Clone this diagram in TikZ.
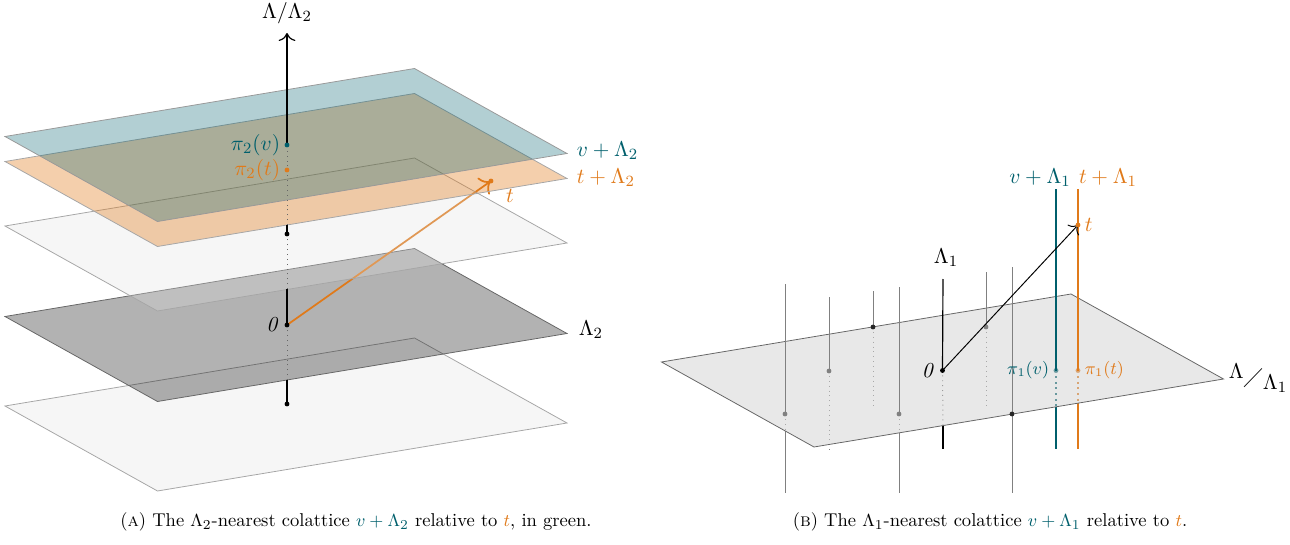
\documentclass[tikz,border=0pt]{standalone}
\usepackage{amsmath,amssymb}
\usepackage{tikz}
\usetikzlibrary{arrows.meta,positioning,calc}
\usepackage{xcolor}
\definecolor{fteal}{RGB}{0,95,108}
\definecolor{forange}{RGB}{224,122,26}
\tikzset{
  lightplane/.style  = {draw=black!35, fill=black!12, fill opacity=0.3},
  darkplane/.style   = {draw=black!60, fill=black, fill opacity=0.3},
  orangeplane/.style = {draw=black!35, fill=forange, fill opacity=0.36},
  tealplane/.style   = {draw=black!40, fill=fteal, fill opacity=0.3},
  quotplane/.style   = {draw=black!60, fill=black!18, fill opacity=0.5},
  axisline/.style    = {line width=0.6pt},
  hidden/.style      = {dotted, line width=0.5pt, black!60},
  latline/.style     = {line width=0.45pt, black!50},
  sig/.style         = {-{To[scale=1.4]}},
}
% one parallelogram of the stack, centred at #2
\newcommand{\colplane}[2]{%
  \draw[#1] (#2) ++(-281,-8.5) -- ++(409.5,-68) -- ++(152.5,85)
    -- ++(-409.5,68) -- cycle;}

\begin{document}
\begin{tikzpicture}[x=0.018cm, y=-0.018cm, font=\fontsize{11}{13}\selectfont]
\useasboundingbox (0,0) rectangle (1290,545);
% ---------------- (a) cosets of Lambda_2 ----------------
\coordinate (O)    at (287,325);
\coordinate (Pup)  at (287,234);
\coordinate (Pdn)  at (287,404);
\coordinate (piv)  at (287,145);
\coordinate (pit)  at (287,170);
\coordinate (tpt)  at (491,181);
\coordinate (top)  at (287,33);
\coordinate (cutA) at (287,380);
\coordinate (cutB) at (287,289);
\coordinate (cutC) at (287,225);
\colplane{lightplane}{286,414.5}
\colplane{darkplane}{286,325}
\draw[sig, forange, line width=0.9pt] (O) -- (tpt);
\colplane{lightplane}{286,234.5}
\colplane{orangeplane}{286,170}
\colplane{tealplane}{286,145}
% quotient axis, dotted where a plane hides it
\draw[axisline] (Pdn) -- (cutA);
\draw[hidden] (cutA) -- (O);
\draw[axisline] (O) -- (cutB);
\draw[hidden] (cutB) -- (Pup);
\draw[axisline] (Pup) -- (cutC);
\draw[hidden] (cutC) -- (piv);
\draw[axisline, sig] (piv) -- (top);
\foreach \p in {O,Pup,Pdn}{
  \fill (\p) circle (1.25pt);}
\fill[fteal] (piv) circle (1.25pt);
\fill[forange] (pit) circle (1.25pt);
\fill[forange] (tpt) circle (1.25pt);
\node (quotA) at (287,13) {$\Lambda/\Lambda_2$};
\node[left, fteal] (lpiv) at (piv) {$\pi_2(v)$};
\node[left, forange] (lpit) at (pit) {$\pi_2(t)$};
\node[left] (lO) at (O) {$\mathit{0}$};
\node[forange] (lt) at (510,196) {$t$};
\node[fteal, anchor=west] (lvA) at (570,151) {$v+\Lambda_2$};
\node[forange, anchor=west] (ltA) at (570,178) {$t+\Lambda_2$};
\node[anchor=west] (lLA) at (572,330) {$\Lambda_2$};

% ---------------- (b) cosets of Lambda_1 ----------------
\coordinate (O1)   at (942.5,370.5);
\coordinate (Ltop) at (943,279);
\coordinate (Lcut) at (943,425.6);
\coordinate (Lbot) at (943,449);
\coordinate (vtop) at (1056,189);
\coordinate (pv1)  at (1056,370.5);
\coordinate (vcut) at (1056,406.5);
\coordinate (vbot) at (1056,449);
\coordinate (ttop) at (1078,189);
\coordinate (t1)   at (1078,225);
\coordinate (pt1)  at (1078,370.5);
\coordinate (tcut) at (1078,403);
\coordinate (tbot) at (1078,449);
% other lattice lines: x / top / point / plane edge / bottom
\foreach \i/\x/\tp/\pt/\cut/\bt in {1/785/284/414/431/493, 2/829/297/371/450/450,
    3/873/291/327/407/407, 4/899/287/414/433/493, 5/986/272/327/407/407,
    6/1012/267/414/414/493}{
  \coordinate (lt\i) at (\x,\tp);
  \coordinate (lp\i) at (\x,\pt);
  \coordinate (lc\i) at (\x,\cut);
  \coordinate (lb\i) at (\x,\bt);
  \draw[hidden, black!50] (lp\i) -- (lc\i);
  \draw[latline] (lc\i) -- (lb\i);}
\draw[hidden] (O1) -- (Lcut);
\draw[axisline] (Lcut) -- (Lbot);
\draw[hidden, fteal, line width=0.9pt] (pv1) -- (vcut);
\draw[fteal, line width=0.9pt] (vcut) -- (vbot);
\draw[hidden, forange, line width=0.9pt] (pt1) -- (tcut);
\draw[forange, line width=0.9pt] (tcut) -- (tbot);
\fill[fteal] (pv1) circle (1.25pt);
\fill[forange] (pt1) circle (1.25pt);
\colplane{quotplane}{942.5,370.5}
\foreach \i/\c in {1/black!50, 2/black!50, 3/black!85, 4/black!50, 5/black!50, 6/black!85}{
  \draw[latline] (lt\i) -- (lp\i);
  \fill[\c] (lp\i) circle (1.25pt);}
\draw[axisline] (Ltop) -- (O1);
\draw[fteal, line width=0.9pt] (vtop) -- (pv1);
\draw[forange, line width=0.9pt] (ttop) -- (pt1);
\draw[sig, line width=0.5pt] (O1) -- (t1);
\fill (O1) circle (1.25pt);
\fill[forange] (t1) circle (1.25pt);
\node (lL1) at (946,258) {$\Lambda_1$};
\node[left] (lO1) at (O1) {$\mathit{0}$};
\node[left, fteal, font=\small] (lpv1) at (pv1) {$\pi_1(v)$};
\node[right, forange, font=\small] (lpt1) at (pt1) {$\pi_1(t)$};
\node[right, forange] (lt1) at (t1) {$t$};
\node[fteal] (lvB) at (1040,178) {$v+\Lambda_1$};
\node[forange] (ltB) at (1108,178) {$t+\Lambda_1$};
\node (quotB) at (1258,378)
  {\raisebox{0.6ex}{$\Lambda$}$\diagup$\raisebox{-0.6ex}{$\Lambda_1$}};

% ---------------- captions ----------------
\node[font=\fontsize{9.5}{11}\selectfont] (capA) at (356,522)
  {(\textsc{a}) The $\Lambda_2$-nearest colattice \textcolor{fteal}{$v+\Lambda_2$}
   relative to \textcolor{forange}{$t$}, in green.};
\node[font=\fontsize{9.5}{11}\selectfont] (capB) at (990,522)
  {(\textsc{b}) The $\Lambda_1$-nearest colattice \textcolor{fteal}{$v+\Lambda_1$}
   relative to \textcolor{forange}{$t$}.};
\end{tikzpicture}
\end{document}
